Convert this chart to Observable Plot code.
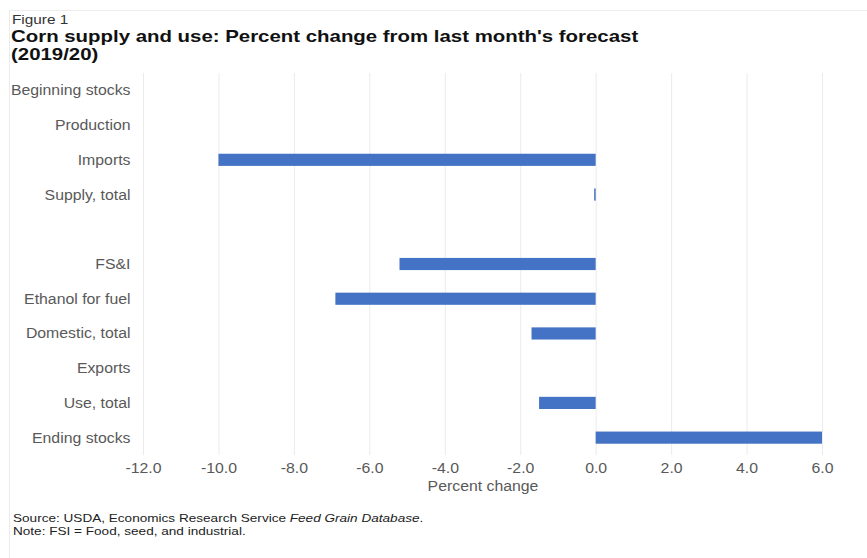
<!DOCTYPE html>
<html>
<head>
<meta charset="utf-8">
<script src="https://cdn.jsdelivr.net/npm/d3@7"></script>
<script src="https://cdn.jsdelivr.net/npm/@observablehq/plot@0.6"></script>
<style>
  html, body { margin: 0; padding: 0; background: #fff; }
  body { width: 867px; height: 558px; position: relative; overflow: hidden; font-family: "Liberation Sans", Arial, sans-serif; }
  #frame { position: absolute; left: 9px; top: 10px; right: 0; bottom: 0; border-left: 1px solid #ececec; border-top: 1px solid #ececec; }
  #fig { position: absolute; left: 12px; top: 12px; font-size: 13px; color: #333; transform: scaleX(1.18); transform-origin: left top; white-space: nowrap; }
  #title { position: absolute; left: 11px; top: 28px; font-size: 17px; font-weight: bold; color: #111; line-height: 18px; transform: scaleX(1.2); transform-origin: left top; white-space: nowrap; }
  #chart { position: absolute; left: 0; top: 70px; }
  #foot { position: absolute; left: 13px; top: 512px; font-size: 11.5px; color: #222; line-height: 12.5px; transform: scaleX(1.18); transform-origin: left top; white-space: nowrap; }
</style>
</head>
<body>
<div id="frame"></div>
<div id="fig">Figure 1</div>
<div id="title">Corn supply and use: Percent change from last month's forecast<br>(2019/20)</div>
<div id="chart"></div>
<div id="foot">Source: USDA, Economics Research Service <i>Feed Grain Database</i>.<br>Note: FSI = Food, seed, and industrial.</div>
<script>
const categories = ["Beginning stocks", "Production", "Imports", "Supply, total", " ", "FS&I", "Ethanol for fuel", "Domestic, total", "Exports", "Use, total", "Ending stocks"];
const barCategories = ["Beginning stocks", "Production", "Imports", "Supply, total", "FS&I", "Ethanol for fuel", "Domestic, total", "Exports", "Use, total", "Ending stocks"];
const values = [0, 0, -10.0, -0.04, -5.2, -6.9, -1.7, 0, -1.5, 6.0];
const xTicks = [-12, -10, -8, -6, -4, -2, 0, 2, 4, 6];

const data = barCategories.map((c, i) => ({category: c, value: values[i]}));

const plot = Plot.plot({
  width: 867,
  height: 425,
  marginTop: 3,
  marginBottom: 40,
  marginLeft: 143,
  marginRight: 45,
  style: {fontFamily: "Liberation Sans, Arial, sans-serif", fontSize: "14px", color: "#595959", background: "transparent"},
  x: {domain: [-12, 6]},
  y: {domain: categories, paddingInner: 0.65, paddingOuter: 0.325, round: false},
  marks: [
    Plot.ruleX(xTicks, {stroke: "#ebebeb", strokeWidth: 1}),
    Plot.barX(data.filter(d => d.value !== 0), {x1: 0, x2: "value", y: "category", fill: "#4472c4"}),
    Plot.axisX({ticks: xTicks, tickFormat: d => d.toFixed(1), tickSize: 0, tickPadding: 8, label: "Percent change", labelAnchor: "center", labelArrow: "none", labelOffset: 35, fontSize: 14}),
    Plot.axisY({tickSize: 0, tickPadding: 13, label: null, fontSize: 14, tickFormat: d => d.trim()})
  ]
});
document.getElementById("chart").appendChild(plot);

// Widen text horizontally to match the reference's stretched rendering
plot.querySelectorAll("text").forEach(t => {
  const w = t.getComputedTextLength();
  if (w > 0) {
    t.setAttribute("textLength", (w * 1.13).toFixed(1));
    t.setAttribute("lengthAdjust", "spacingAndGlyphs");
  }
});
</script>
</body>
</html>
